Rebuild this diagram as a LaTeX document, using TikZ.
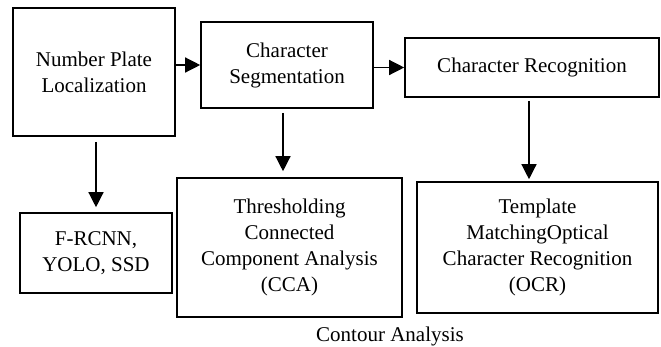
\documentclass[tikz,border=0pt]{standalone}
\usepackage{fontspec}
\setmainfont{Liberation Serif}
\newfontfamily\boxserif{Liberation Serif}
\usetikzlibrary{arrows.meta}
\begin{document}
\begin{tikzpicture}[x=1pt,y=-1pt,
  txt/.style={font=\boxserif\fontsize{21}{26}\selectfont, align=center, inner sep=0pt},
  frame/.style={draw, line width=1.6pt},
  arr/.style={line width=1.3pt, -{Triangle[width=15pt,length=15pt]}}]
\useasboundingbox (0,0) rectangle (661,346);

% main pipeline
\node[frame, minimum width=162pt, minimum height=128pt] (loc) at (94,72) {};
\node[frame, minimum width=172pt, minimum height=86pt] (seg) at (287,65) {};
\node[frame, minimum width=254pt, minimum height=59pt] (rec) at (532,67.5) {};

% methods for each stage
\node[frame, minimum width=152pt, minimum height=80pt] (det) at (96,253) {};
\node[frame, minimum width=225pt, minimum height=139pt] (cca) at (289.5,247.5) {};
\node[frame, minimum width=241pt, minimum height=131pt] (ocr) at (537.5,247.5) {};

% labels
\node[txt] (contour) at (390,336) {Contour Analysis};
\node[txt] (loctxt) at (loc) {Number Plate\\Localization};
\node[txt] (segtxt) at (seg) {Character\\Segmentation};
\node[txt] (rectxt) at (rec) {Character Recognition};
\node[txt] (dettxt) at (det) {F-RCNN,\\YOLO, SSD};
\node[txt] (ccatxt) at (cca) {Thresholding\\Connected\\Component Analysis\\(CCA)};
\node[txt] (ocrtxt) at (ocr) {Template\\MatchingOptical\\Character Recognition\\(OCR)};

% connectors
\draw[arr] (loc.east |- seg.west) -- (seg.west);
\draw[arr] (seg.east |- rec.west) -- (rec.west);
\draw[arr, shorten <=5pt, shorten >=5pt] (loc.south -| det.north) -- (det.north);
\draw[arr, shorten <=4pt, shorten >=6pt] ([xshift=-4pt]seg.south) -- ([xshift=-4pt]seg.south |- cca.north);
\draw[arr, shorten <=3pt, shorten >=2pt] ([xshift=-3pt]rec.south) -- ([xshift=-3pt]rec.south |- ocr.north);
\end{tikzpicture}
\end{document}
